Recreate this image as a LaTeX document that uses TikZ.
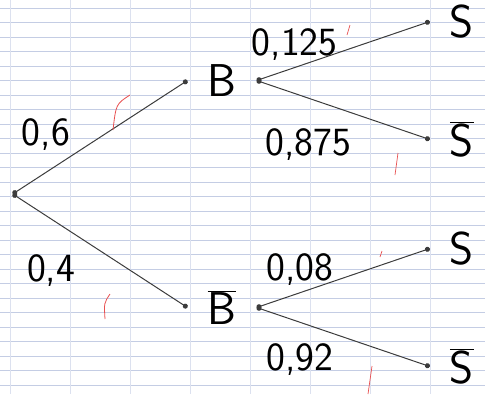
\documentclass[tikz,border=0pt]{standalone}
\usetikzlibrary{arrows.meta}
\definecolor{ruled}{RGB}{196,205,228}
\definecolor{marker}{RGB}{232,80,80}
\definecolor{pencil}{RGB}{60,60,60}

\begin{document}
\begin{tikzpicture}[x=1pt,y=1pt,
  font=\sffamily\fontsize{40}{44}\selectfont,
  grow'=right,
  level 1/.style={level distance=210pt,sibling distance=227pt},
  level 2/.style={level distance=240pt,sibling distance=118pt},
  event/.style={inner xsep=20pt,inner ysep=0pt,font=\sffamily\fontsize{46}{50}\selectfont},
  edge from parent/.style={draw=pencil,line width=1pt,{Circle[length=5pt]}-{Circle[length=5pt]}},
  edge from parent path={(\tikzparentnode.east) -- (\tikzchildnode.west)}]
  \useasboundingbox (0,0) rectangle (485,-394);
  % lined paper
  \foreach \k in {0,...,26}
    \draw[ruled,line width=0.8pt] (0,-8-14.5*\k) -- (485,-8-14.5*\k);
  \foreach \x in {10,70,...,490}
    \draw[ruled!60,line width=0.6pt] (\x,0) -- (\x,-394);
  % tree
  \node[inner sep=0pt] (root) at (12,-194) {}
    child {node[event] (b) {B}
      child {node[event] (bs) {S}
        edge from parent node[pos=.22,above=3pt] {0,125}}
      child {node[event] (bsbar) {$\overline{\textsf{S}}$}
        edge from parent node[pos=.3,below=27pt] {0,875}}
      edge from parent node[pos=.35,above left] {0,6}}
    child {node[event] (bbar) {$\overline{\textsf{B}}$}
      child {node[event] (bbars) {S}
        edge from parent node[pos=.25,above=3pt] {0,08}}
      child {node[event] (bbarsbar) {$\overline{\textsf{S}}$}
        edge from parent node[pos=.25,below=18pt] {0,92}}
      edge from parent node[pos=.22,below=32pt] {0,4}};
  % red marks
  \draw[marker,line width=0.8pt] (130,-95) .. controls (116,-104) .. (113,-130);
  \draw[marker,line width=0.8pt] (110,-294) .. controls (104,-303) .. (105,-319);
  \draw[marker,line width=0.7pt] (350,-25) -- (347,-35);
  \draw[marker,line width=0.7pt] (398,-153) -- (395,-175);
  \draw[marker,line width=0.7pt] (382,-251) -- (380,-257);
  \draw[marker,line width=0.7pt] (372,-366) -- (368,-394);
\end{tikzpicture}
\end{document}
